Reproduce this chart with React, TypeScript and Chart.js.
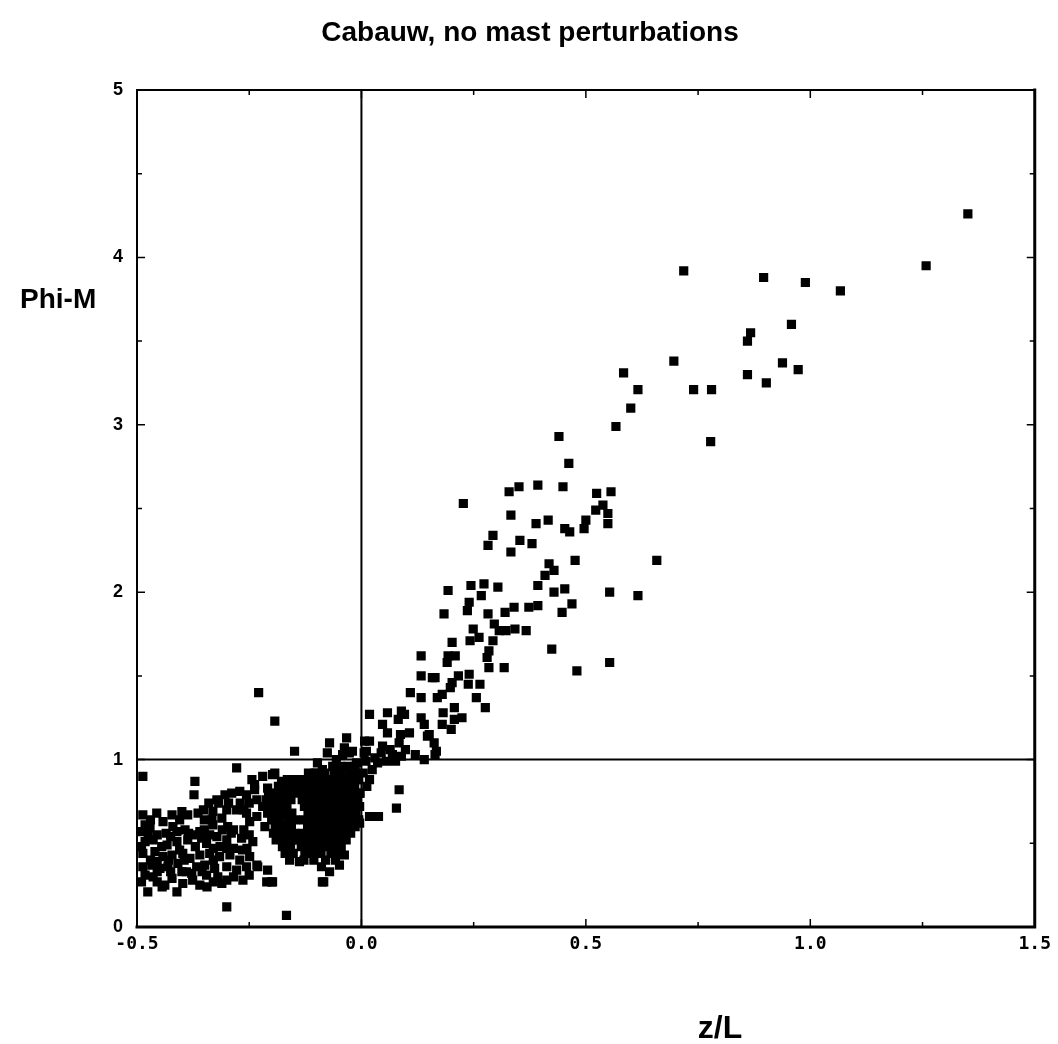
import { useEffect, useRef } from 'react';
import { Chart, registerables } from 'chart.js';

Chart.register(...registerables);

const WIDTH = 1058;
const HEIGHT = 1044;

const TITLE = 'Cabauw, no mast perturbations';
const X_TITLE = 'z/L';
const Y_TITLE = 'Phi-M';

// Stable stratification (z/L >= 0)
const stableZ = [
  1.351, 1.258, 1.067, 0.989, 0.896, 0.718,
  0.958, 0.973, 0.938, 0.902, 0.867, 0.860, 0.860,
  0.780, 0.740, 0.696, 0.778,
  0.584, 0.616, 0.600, 0.567, 0.440, 0.462,
  0.658, 0.616, 0.553, 0.553, 0.480, 0.424,
  0.227, 0.329, 0.351, 0.393, 0.449, 0.524, 0.556, 0.538, 0.522, 0.549, 0.549, 0.500, 0.496, 0.453, 0.464,
  0.333, 0.389, 0.416, 0.293, 0.282, 0.353, 0.380, 0.333, 0.418, 0.429, 0.409, 0.476,
  0.193, 0.244, 0.273, 0.304, 0.267, 0.393, 0.429, 0.453,
  0.240, 0.236, 0.184, 0.282, 0.320, 0.340, 0.373, 0.393, 0.447, 0.469,
  0.296, 0.307, 0.322, 0.342, 0.367, 0.249, 0.242, 0.262, 0.293, 0.202, 0.284, 0.280, 0.193, 0.209, 0.191, 0.284, 0.318,
  0.133, 0.133, 0.158, 0.164, 0.216, 0.202, 0.240, 0.238, 0.264, 0.198, 0.133, 0.169, 0.180, 0.256, 0.276, 0.207,
  0.182, 0.224, 0.207, 0.133, 0.180, 0.200, 0.140, 0.151,
  0.109, 0.018, 0.058, 0.089, 0.096, 0.082, 0.047, 0.058, 0.107, 0.087, 0.084, 0.147, 0.162, 0.167, 0.164,
  0.007, 0.018, 0.011, 0.047, 0.044, 0.069, 0.089, 0.036,
  0.018, 0.084, 0.078, 0.018, 0.038,
  0.004, 0.010, 0.006, 0.024, 0.030, 0.012, 0.056, 0.064, 0.076, 0.098, 0.120, 0.140,
];
const stablePhi = [
  4.26, 3.95, 3.80, 3.85, 3.88, 3.92,
  3.60, 3.33, 3.37, 3.25, 3.55, 3.50, 3.30,
  3.21, 3.21, 3.38, 2.90,
  3.31, 3.21, 3.10, 2.99, 2.93, 2.77,
  2.19, 1.98, 2.00, 1.58, 1.53, 1.66,
  2.53, 2.60, 2.63, 2.64, 2.63, 2.59, 2.60, 2.52, 2.49, 2.47, 2.41, 2.43, 2.38, 2.38, 2.36,
  2.46, 2.41, 2.43, 2.34, 2.28, 2.31, 2.29, 2.24, 2.17, 2.13, 2.10, 2.19,
  2.01, 2.04, 2.05, 2.03, 1.98, 2.04, 2.00, 2.02,
  1.94, 1.89, 1.87, 1.87, 1.88, 1.91, 1.91, 1.92, 1.88, 1.93,
  1.81, 1.77, 1.77, 1.78, 1.77, 1.78, 1.71, 1.73, 1.71, 1.70, 1.65, 1.61, 1.62, 1.62, 1.58, 1.55, 1.55,
  1.62, 1.50, 1.49, 1.49, 1.50, 1.46, 1.51, 1.45, 1.45, 1.43, 1.37, 1.37, 1.39, 1.37, 1.31, 1.31,
  1.28, 1.25, 1.24, 1.25, 1.21, 1.18, 1.21, 1.15,
  1.40, 1.27, 1.28, 1.29, 1.27, 1.24, 1.21, 1.16, 1.16, 1.15, 1.10, 1.14, 1.10, 1.05, 1.03,
  1.11, 1.11, 1.05, 1.08, 1.04, 1.03, 1.02, 0.98,
  0.88, 0.82, 0.71, 0.66, 0.66,
  0.92, 0.99, 1.04, 0.94, 1.01, 0.84, 0.99, 1.06, 0.99, 1.06, 1.03, 1.00,
];

// Unstable stratification (z/L < 0), scattered part
const unstableZ = [
  -0.229, -0.193, -0.149, -0.278, -0.487, -0.371, -0.373, -0.300, -0.167, -0.084, -0.264, -0.411, -0.476, -0.444, -0.422, -0.211, -0.198,
  -0.071, -0.033, -0.076, -0.020, -0.042, -0.038, -0.098, -0.056, -0.027, -0.011,
  -0.220, -0.193, -0.178, -0.238, -0.149, -0.127, -0.104, -0.087,
  -0.244, -0.238, -0.322, -0.304, -0.289, -0.271, -0.256, -0.233,
  -0.487, -0.456, -0.442, -0.422, -0.400, -0.387, -0.364, -0.331, -0.311, -0.278, -0.256, -0.233,
  -0.482, -0.471, -0.420, -0.411, -0.393, -0.360, -0.331, -0.333, -0.298, -0.249,
  -0.482, -0.464, -0.433, -0.411, -0.387, -0.356, -0.322, -0.300, -0.267, -0.242,
  -0.487, -0.460, -0.442, -0.422, -0.398, -0.382, -0.360, -0.338, -0.316, -0.293, -0.271, -0.249,
  -0.487, -0.467, -0.449, -0.431, -0.409, -0.367, -0.349, -0.327, -0.300, -0.278, -0.256, -0.233,
  -0.482, -0.464, -0.438, -0.398, -0.378, -0.376, -0.360, -0.344, -0.311, -0.300,
  -0.198, -0.209, -0.176,
  -0.231, -0.209, -0.200, -0.138, -0.089, -0.071, -0.049, -0.038, -0.087, -0.011, -0.004, -0.004,
  -0.490, -0.490, -0.455, -0.445, -0.425, -0.405, -0.370, -0.345, -0.350, -0.315, -0.285, -0.290, -0.265,
  -0.455, -0.400, -0.345, -0.320, -0.285, -0.250,
];
const unstablePhi = [
  1.40, 1.23, 1.05, 0.95, 0.90, 0.87, 0.79, 0.12, 0.07, 0.27, 0.28, 0.21, 0.21, 0.24, 0.29, 0.27, 0.27,
  1.10, 1.13, 1.04, 1.05, 1.03, 1.07, 0.98, 1.00, 1.04, 0.98,
  0.90, 0.92, 0.87, 0.85, 0.84, 0.87, 0.92, 0.94,
  0.88, 0.82, 0.76, 0.79, 0.80, 0.81, 0.79, 0.76,
  0.67, 0.68, 0.63, 0.67, 0.69, 0.67, 0.68, 0.69, 0.65, 0.70, 0.68, 0.66,
  0.61, 0.59, 0.60, 0.57, 0.58, 0.57, 0.61, 0.64, 0.60, 0.63,
  0.51, 0.52, 0.49, 0.51, 0.52, 0.53, 0.54, 0.52, 0.53, 0.51,
  0.44, 0.45, 0.42, 0.43, 0.44, 0.41, 0.43, 0.44, 0.42, 0.43, 0.40, 0.42,
  0.36, 0.37, 0.35, 0.36, 0.38, 0.36, 0.37, 0.35, 0.36, 0.34, 0.36, 0.37,
  0.31, 0.30, 0.25, 0.26, 0.32, 0.28, 0.25, 0.24, 0.26, 0.28,
  0.91, 0.83, 0.84,
  0.36, 0.34, 0.27, 0.39, 0.36, 0.33, 0.37, 0.43, 0.27, 0.88, 0.80, 0.62,
  0.57, 0.48, 0.55, 0.48, 0.54, 0.46, 0.48, 0.50, 0.58, 0.48, 0.47, 0.56, 0.46,
  0.39, 0.33, 0.31, 0.30, 0.30, 0.31,
];

// Unstable stratification, crowded part: one list of z/L values per Phi-M row
const crowdedPhi = [
  0.96, 0.92, 0.88, 0.84, 0.80, 0.76, 0.72, 0.68, 0.64, 0.60, 0.56, 0.52, 0.48, 0.44, 0.40,
  0.74, 0.70, 0.58, 0.55, 0.47,
  0.64, 0.40, 0.33, 0.56, 0.27,
];
const crowdedZ = [
  [-0.064, -0.047, -0.030, -0.014],
  [-0.118, -0.100, -0.082, -0.061, -0.045, -0.026, -0.012],
  [-0.165, -0.148, -0.131, -0.112, -0.094, -0.076, -0.058, -0.040, -0.022, -0.006],
  [-0.185, -0.163, -0.139, -0.121, -0.103, -0.085, -0.067, -0.049, -0.031, -0.015],
  [-0.207, -0.188, -0.172, -0.158, -0.142, -0.124, -0.105, -0.088, -0.070, -0.053, -0.035, -0.018, -0.003],
  [-0.212, -0.194, -0.176, -0.157, -0.132, -0.116, -0.097, -0.079, -0.061, -0.044, -0.027, -0.009],
  [-0.220, -0.203, -0.185, -0.166, -0.127, -0.108, -0.090, -0.072, -0.055, -0.037, -0.020, -0.004],
  [-0.209, -0.190, -0.172, -0.155, -0.119, -0.101, -0.083, -0.065, -0.047, -0.029, -0.012],
  [-0.200, -0.183, -0.164, -0.147, -0.128, -0.110, -0.092, -0.074, -0.057, -0.039, -0.021, -0.006],
  [-0.215, -0.192, -0.175, -0.156, -0.120, -0.102, -0.084, -0.066, -0.048, -0.031, -0.014],
  [-0.196, -0.178, -0.160, -0.149, -0.131, -0.113, -0.095, -0.077, -0.059, -0.042, -0.024],
  [-0.190, -0.172, -0.155, -0.141, -0.123, -0.105, -0.087, -0.069, -0.052, -0.034],
  [-0.176, -0.158, -0.134, -0.116, -0.098, -0.080, -0.062, -0.045],
  [-0.170, -0.152, -0.126, -0.108, -0.090, -0.068, -0.054],
  [-0.160, -0.128, -0.106, -0.080, -0.058],
  [-0.340, -0.318, -0.296, -0.270, -0.250],
  [-0.352, -0.300, -0.262],
  [-0.310, -0.285, -0.262],
  [-0.372, -0.338, -0.250],
  [-0.330, -0.300, -0.255],
  [-0.470, -0.405, -0.350],
  [-0.470, -0.430, -0.395, -0.330],
  [-0.455, -0.425, -0.390, -0.355],
  [-0.475, -0.435, -0.385],
  [-0.490, -0.455, -0.330],
];

// Axis ticks and neutral reference lines
const xMin = -0.5;
const xMax = 1.5;
const yMin = 0;
const yMax = 5;
const xTickLabels = ['-0.5', '0.0', '0.5', '1.0', '1.5'];
const yTickLabels = ['0', '1', '2', '3', '4', '5'];
const xMajorTicks = [-0.5, 0, 0.5, 1.0, 1.5];
const xMinorTicks = [-0.25, 0.25, 0.75, 1.25];
const yMajorTicks = [0, 1, 2, 3, 4, 5];
const yMinorTicks = [0.5, 1.5, 2.5, 3.5, 4.5];
const neutralZ = 0;
const neutralPhi = 1;

const toPoints = (xs: number[], ys: number[]) => xs.map((x, i) => ({ x, y: ys[i] }));
const rowsToPoints = (rows: number[][], ys: number[]) =>
  rows.flatMap((row, i) => row.map((x) => ({ x, y: ys[i] })));

const framePlugin = {
  id: 'frameAndLabels',
  beforeDatasetsDraw(chart: any) {
    const { ctx, chartArea: a, scales } = chart;
    const px = scales.x.getPixelForValue(neutralZ);
    const py = scales.y.getPixelForValue(neutralPhi);
    ctx.save();
    ctx.strokeStyle = '#000';
    ctx.lineWidth = 2;
    ctx.beginPath();
    ctx.moveTo(px, a.top);
    ctx.lineTo(px, a.bottom);
    ctx.moveTo(a.left, py);
    ctx.lineTo(a.right, py);
    ctx.stroke();
    ctx.restore();
  },
  afterDatasetsDraw(chart: any) {
    const { ctx, chartArea: a, scales } = chart;
    const sx = scales.x;
    const sy = scales.y;
    ctx.save();
    ctx.strokeStyle = '#000';
    ctx.lineCap = 'square';
    // frame: thin top/left, heavier right/bottom
    ctx.lineWidth = 2;
    ctx.beginPath();
    ctx.moveTo(a.left, a.bottom);
    ctx.lineTo(a.left, a.top);
    ctx.lineTo(a.right, a.top);
    ctx.stroke();
    ctx.lineWidth = 3;
    ctx.beginPath();
    ctx.moveTo(a.right, a.top);
    ctx.lineTo(a.right, a.bottom);
    ctx.lineTo(a.left, a.bottom);
    ctx.stroke();
    // inward tick marks on all four sides
    ctx.lineWidth = 1.5;
    ctx.lineCap = 'butt';
    const drawX = (v: number, len: number) => {
      const p = sx.getPixelForValue(v);
      ctx.moveTo(p, a.bottom);
      ctx.lineTo(p, a.bottom - len);
      ctx.moveTo(p, a.top);
      ctx.lineTo(p, a.top + len);
    };
    const drawY = (v: number, len: number) => {
      const p = sy.getPixelForValue(v);
      ctx.moveTo(a.left, p);
      ctx.lineTo(a.left + len, p);
      ctx.moveTo(a.right, p);
      ctx.lineTo(a.right - len, p);
    };
    ctx.beginPath();
    xMajorTicks.forEach((v) => drawX(v, 8));
    xMinorTicks.forEach((v) => drawX(v, 5));
    yMajorTicks.forEach((v) => drawY(v, 8));
    yMinorTicks.forEach((v) => drawY(v, 5));
    ctx.stroke();
    ctx.restore();
  },
  afterDraw(chart: any) {
    const { ctx } = chart;
    ctx.save();
    ctx.fillStyle = '#000';
    ctx.textBaseline = 'middle';
    ctx.textAlign = 'center';
    ctx.font = 'bold 28px "Liberation Sans", Arial, sans-serif';
    ctx.fillText(TITLE, 530, 33);
    ctx.font = 'bold 32px "Liberation Sans", Arial, sans-serif';
    ctx.fillText(X_TITLE, 720, 1029);
    ctx.textAlign = 'left';
    ctx.font = 'bold 28px "Liberation Sans", Arial, sans-serif';
    ctx.fillText(Y_TITLE, 20, 300);
    ctx.restore();
  },
};

export default function App() {
  const canvasRef = useRef<HTMLCanvasElement | null>(null);

  useEffect(() => {
    const canvas = canvasRef.current;
    if (!canvas) return;
    const squareStyle = {
      pointStyle: 'rect' as const,
      pointRadius: 6.5,
      pointHoverRadius: 6.5,
      backgroundColor: '#000',
      borderWidth: 0,
    };
    const chart = new Chart(canvas, {
      type: 'scatter',
      data: {
        datasets: [
          { label: 'unstable', data: toPoints(unstableZ, unstablePhi), ...squareStyle },
          { label: 'unstable crowded', data: rowsToPoints(crowdedZ, crowdedPhi), ...squareStyle },
          { label: 'stable', data: toPoints(stableZ, stablePhi), ...squareStyle },
        ],
      },
      options: {
        responsive: false,
        animation: false,
        events: [],
        layout: { padding: { left: 97, right: 21, top: 90, bottom: 77 } },
        plugins: {
          legend: { display: false },
          tooltip: { enabled: false },
          title: { display: false },
        },
        scales: {
          x: {
            type: 'linear',
            min: xMin,
            max: xMax,
            grid: { display: false, drawTicks: false },
            border: { display: false },
            afterFit: (s: any) => {
              s.height = 40;
            },
            ticks: {
              stepSize: 0.5,
              padding: 7,
              color: '#000',
              font: { family: '"DejaVu Sans Mono", monospace', weight: 'bold', size: 18 },
              maxRotation: 0,
              autoSkip: false,
              callback: (_v: any, i: number) => xTickLabels[i],
            },
          },
          y: {
            type: 'linear',
            min: yMin,
            max: yMax,
            grid: { display: false, drawTicks: false },
            border: { display: false },
            afterFit: (s: any) => {
              s.width = 40;
            },
            ticks: {
              stepSize: 1,
              padding: 14,
              color: '#000',
              font: { family: '"Liberation Sans", Arial, sans-serif', weight: 'bold', size: 18 },
              autoSkip: false,
              callback: (_v: any, i: number) => yTickLabels[i],
            },
          },
        },
      },
      plugins: [framePlugin],
    });
    return () => chart.destroy();
  }, []);

  return (
    <div style={{ position: 'absolute', left: 0, top: 0, width: WIDTH, height: HEIGHT, background: '#fff' }}>
      <canvas ref={canvasRef} width={WIDTH} height={HEIGHT} style={{ display: 'block', width: WIDTH, height: HEIGHT }} />
    </div>
  );
}
